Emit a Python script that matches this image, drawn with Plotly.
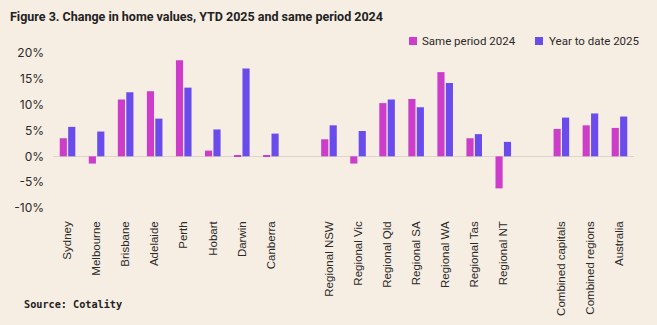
import plotly.graph_objects as go

categories = ["Sydney", "Melbourne", "Brisbane", "Adelaide", "Perth", "Hobart", "Darwin", "Canberra",
              " ",
              "Regional NSW", "Regional Vic", "Regional Qld", "Regional SA", "Regional WA", "Regional Tas", "Regional NT",
              "  ",
              "Combined capitals", "Combined regions", "Australia"]
same_period_2024 = [3.5, -1.4, 11.0, 12.6, 18.6, 1.1, 0.2, 0.1,
                    None,
                    3.3, -1.4, 10.3, 11.1, 16.3, 3.5, -6.2,
                    None,
                    5.3, 6.0, 5.5]
ytd_2025 = [5.7, 4.8, 12.4, 7.3, 13.3, 5.2, 17.0, 4.4,
            None,
            6.0, 4.9, 11.0, 9.5, 14.2, 4.3, 2.8,
            None,
            7.5, 8.3, 7.7]
y_ticks = [-10, -5, 0, 5, 10, 15, 20]
y_tick_labels = ["-10%", "-5%", "0%", "5%", "10%", "15%", "20%"]
series_names = ["Same period 2024", "Year to date 2025"]
series_colors = ["#CC3EC9", "#6A4BEB"]

bg = "#F7EEE3"
W, H = 657, 325
L, R, T, B = 53, 23, 53, 117
PW, PH = W - L - R, H - T - B


def px_x(p):
    return (p - L) / PW


def px_y(p):
    return (H - B - p) / PH


fig = go.Figure()
for name, vals, col in zip(series_names, [same_period_2024, ytd_2025], series_colors):
    fig.add_trace(go.Bar(x=categories, y=vals, name=name,
                         marker=dict(color=col, line=dict(width=0))))

# manual legend
legend_items = [(409, 420), (535, 547)]
shapes = []
annotations = []
for (sx, tx), name, col in zip(legend_items, series_names, series_colors):
    shapes.append(dict(type="rect", xref="paper", yref="paper",
                       x0=px_x(sx), x1=px_x(sx + 8), y0=px_y(45), y1=px_y(37),
                       fillcolor=col, line=dict(width=0)))
    annotations.append(dict(text=name, xref="paper", yref="paper", x=px_x(tx), xanchor="left",
                            y=px_y(41), yanchor="middle", showarrow=False,
                            font=dict(family="Roboto, Liberation Sans, Arial", size=11.5, color="#2a2a2a")))

annotations.append(dict(text="<b>Source: Cotality</b>", xref="paper", yref="paper",
                        x=px_x(22), xanchor="left", y=px_y(304), yanchor="middle",
                        showarrow=False,
                        font=dict(family="DejaVu Sans Mono, monospace", size=10.2, color="#222222")))

fig.update_layout(
    width=W, height=H,
    paper_bgcolor=bg, plot_bgcolor=bg,
    margin=dict(l=L, r=R, t=T, b=B, autoexpand=False),
    barmode="group", bargap=0.42, bargroupgap=0.15,
    showlegend=False,
    title=dict(text="<b>Figure 3. Change in home values, YTD 2025 and same period 2024</b>",
               x=10 / W, xanchor="left", y=1 - 17 / H, yanchor="middle",
               font=dict(family="Roboto, Liberation Sans, Arial", size=12.5, color="#222222")),
    font=dict(family="Liberation Sans, Arial", color="#2a2a2a"),
    shapes=shapes,
    annotations=annotations,
)
fig.update_xaxes(type="category", tickangle=-90, showgrid=False, showline=False, ticks="",
                 tickfont=dict(family="Liberation Sans, Arial", size=11.5, color="#2a2a2a"),
                 ticklabelstandoff=10, automargin=False)
fig.update_yaxes(range=[-10, 20], tickvals=y_ticks, ticktext=y_tick_labels, showgrid=False,
                 zeroline=True, zerolinecolor="#DDD4CB", zerolinewidth=1, showline=False,
                 tickfont=dict(family="Inter, Liberation Sans, Arial", size=12, color="#2a2a2a"),
                 ticks="", ticklabelstandoff=8, automargin=False)

fig.write_html("out.html")
